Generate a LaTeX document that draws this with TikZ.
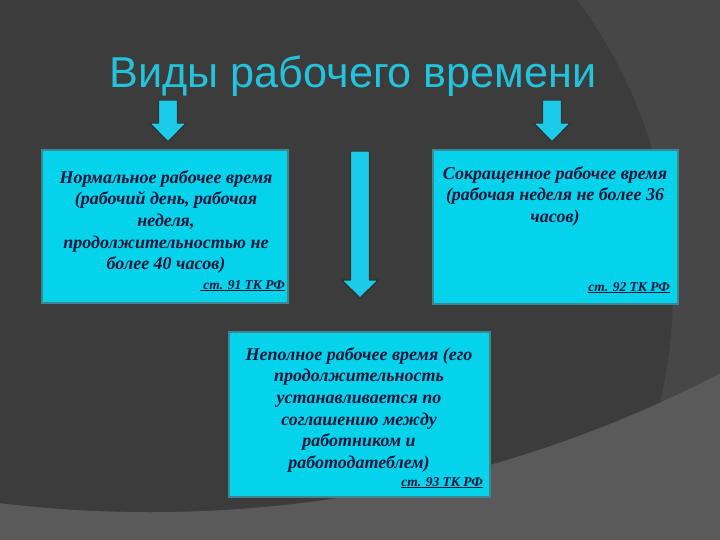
\documentclass[tikz,border=0pt]{standalone}
\usepackage{fontspec}
\setmainfont{Liberation Serif}
\newfontfamily\titlefont{Liberation Sans}
\definecolor{bglight}{HTML}{5A5A5A}
\definecolor{bgmid}{HTML}{474747}
\definecolor{bgdark}{HTML}{3C3C3C}
\definecolor{boxcyan}{HTML}{05D3EC}
\definecolor{boxline}{HTML}{3D8793}
\definecolor{navy}{HTML}{16163A}
\definecolor{titlecyan}{HTML}{22C3DC}
\definecolor{arrowcyan}{HTML}{1CCBE8}
\definecolor{arrowedge}{HTML}{2E3435}
\tikzset{
  pics/blockarrow/.style 2 args={code={
    \path[arrowfill] (-9.5,0) -- (9.5,0) -- (9.5,#1) -- (18.5,#1) -- (0,#2) -- (-18.5,#1) -- (-9.5,#1) -- cycle;}}
}
\begin{document}
\begin{tikzpicture}[x=1pt,y=-1pt,
  box/.style={draw=boxline, line width=1.6pt, fill=boxcyan, inner sep=0pt},
  btext/.style={font=\fontsize{18}{21.7}\selectfont\bfseries\itshape, text=navy, align=center, inner sep=0pt},
  reftext/.style={font=\fontsize{13.5}{15}\selectfont\bfseries\itshape, text=navy, inner sep=0pt},
  arrowfill/.style={fill=arrowcyan, draw=arrowedge, line width=1.4pt, line join=round}]
\useasboundingbox (0,0) rectangle (720,540);
% background
\fill[bglight] (0,0) rectangle (720,540);
\begin{scope}
  \clip (0,0) rectangle (720,540);
  \fill[bgmid] (150,-726) circle[radius=1238pt];
  \clip (150,-726) circle[radius=1238pt];
  \fill[bgdark] (187,290) circle[radius=486pt];
\end{scope}
% title
\node[font=\titlefont\fontsize{43.2}{50}\selectfont, text=titlecyan, anchor=base, inner sep=0pt] (title) at (353,88) {Виды рабочего времени};
% arrows
\pic at (168,100) {blockarrow={23}{42}};
\pic at (552,100) {blockarrow={23}{42}};
\pic at (360,151) {blockarrow={129}{147}};
% boxes
\node[box, minimum width=246pt, minimum height=153pt] (bl) at (165,226.5) {};
\node[box, minimum width=245pt, minimum height=154pt] (br) at (555.5,227) {};
\node[box, minimum width=261pt, minimum height=165pt] (bb) at (359.5,414.5) {};
% texts
\node[btext, anchor=north] (tl) at (166,170) {Нормальное рабочее время\\(рабочий день, рабочая\\неделя,\\продолжительностью не\\более 40 часов)};
\node[reftext, anchor=base east] (rl) at (285,289) {\underline{\ ст. 91 ТК РФ}};
\node[btext, anchor=north] (tr) at (555,166) {Сокращенное рабочее время\\(рабочая неделя не более 36\\часов)};
\node[reftext, anchor=base east] (rr) at (670,291) {\underline{ст. 92 ТК РФ}};
\node[btext, anchor=north] (tb) at (359,347) {Неполное рабочее время (его\\продолжительность\\устанавливается по\\соглашению между\\работником и\\работодатеблем)};
\node[reftext, anchor=base east] (rb) at (483,486) {\underline{ст. 93 ТК РФ}};
\end{tikzpicture}
\end{document}
